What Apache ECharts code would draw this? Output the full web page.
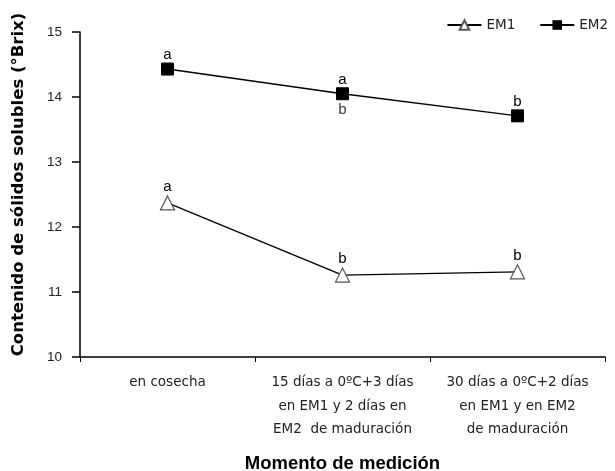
<!DOCTYPE html>
<html><head><meta charset="utf-8">
<script src="https://cdn.jsdelivr.net/npm/echarts@6/dist/echarts.min.js"></script>
<style>html,body{margin:0;padding:0;background:#fff}#c{width:615px;height:471px}</style>
</head><body><div id="c"></div>
<script>
const categories = ['en cosecha', '15 días a 0ºC+3 días\nen EM1 y 2 días en\nEM2  de maduración', '30 días a 0ºC+2 días\nen EM1 y en EM2\nde maduración'];
const em1 = [12.37, 11.26, 11.31];
const em2 = [14.43, 14.05, 13.71];
const em1Above = ['a', 'b', 'b'];
const em2Above = ['a', 'a', 'b'];
const em2Below = ['', 'b', ''];
const yTicks = [10, 11, 12, 13, 14, 15];

const font = 'Liberation Sans, Arial, sans-serif';
const wide = 'DejaVu Sans, Liberation Sans, sans-serif';
const chart = echarts.init(document.getElementById('c'));
chart.setOption({
  animation: false,
  textStyle: { fontFamily: font },
  grid: { left: 80, right: 10, top: 32, bottom: 114, containLabel: false, outerBoundsMode: 'none' },
  legend: {
    top: 13, right: 2, itemGap: 24, itemWidth: 34, itemHeight: 12,
    textStyle: { fontFamily: wide, fontSize: 13.5, color: '#222' },
    data: ['EM1', 'EM2']
  },
  xAxis: {
    type: 'category', data: categories, boundaryGap: true,
    name: 'Momento de medición', nameLocation: 'middle', nameGap: 97,
    nameTextStyle: { fontFamily: font, fontSize: 18.5, fontWeight: 'bold', color: '#000' },
    axisLine: { lineStyle: { color: '#000', width: 1.5 } },
    axisTick: { show: true, length: 5, alignWithLabel: false, lineStyle: { color: '#000' } },
    axisLabel: { interval: 0, margin: 14, lineHeight: 23.5, fontSize: 13.5, color: '#222', fontFamily: wide }
  },
  yAxis: {
    type: 'value', min: yTicks[0], max: yTicks[yTicks.length - 1], interval: 1,
    name: 'Contenido de sólidos solubles (°Brix)', nameLocation: 'middle', nameGap: 53,
    nameTextStyle: { fontFamily: wide, fontSize: 16.5, fontWeight: 'bold', color: '#000', padding: [0, 0, 0, 20] },
    axisLine: { show: true, lineStyle: { color: '#000', width: 1.5 } },
    axisTick: { show: true, length: 8, inside: false, lineStyle: { color: '#000', width: 1.5 } },
    axisLabel: { margin: 18, fontSize: 13.5, color: '#222', fontFamily: font },
    splitLine: { show: false }
  },
  series: [
    {
      name: 'EM1', type: 'line', data: em1,
      symbol: 'triangle', symbolSize: 14,
      itemStyle: { color: '#fff', borderColor: '#555', borderWidth: 1.2 },
      lineStyle: { color: '#000', width: 1.4 },
      label: { show: true, position: 'top', distance: 1, fontSize: 15, color: '#000', fontFamily: font,
        formatter: p => em1Above[p.dataIndex] }
    },
    {
      name: 'EM2', type: 'line', data: em2,
      symbol: 'rect', symbolSize: 12,
      itemStyle: { color: '#000', borderColor: '#000' },
      lineStyle: { color: '#000', width: 1.4 },
      label: { show: true, position: 'top', distance: 0, fontSize: 15, color: '#000', fontFamily: font,
        formatter: p => em2Above[p.dataIndex] }
    },
    {
      name: 'EM2b', type: 'scatter', data: em2, symbolSize: 0, silent: true,
      label: { show: true, position: 'bottom', distance: 9, fontSize: 15, color: '#000', fontFamily: font,
        formatter: p => em2Below[p.dataIndex] }
    }
  ]
});
</script></body></html>
